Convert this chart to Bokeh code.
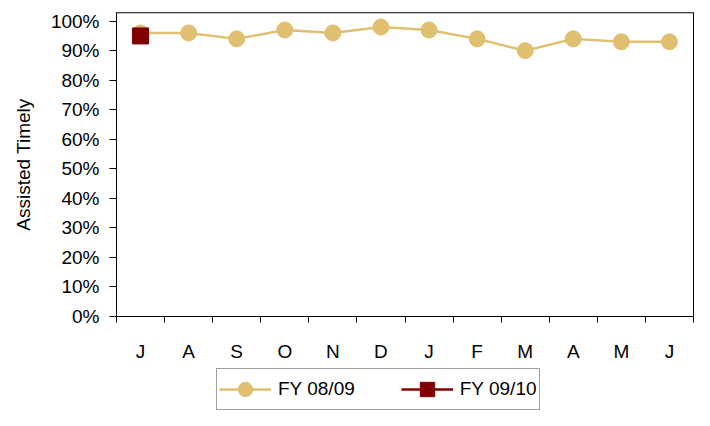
from bokeh.plotting import figure
from bokeh.layouts import column
from bokeh.models import (FixedTicker, PrintfTickFormatter, Legend, LegendItem,
                          Range1d, Span)
from bokeh.embed import file_html
from bokeh.resources import INLINE

months = ["J", "A", "S", "O", "N", "D", "J", "F", "M", "A", "M", "J"]
fy0809 = [96, 96, 94, 97, 96, 98, 97, 94, 90, 94, 93, 93]
fy0910 = [95]
y_ticks = [0, 10, 20, 30, 40, 50, 60, 70, 80, 90, 100]
series_labels = ["FY 08/09", "FY 09/10"]

GOLD = "#E0C070"
RED = "#800000"
FONT = "Liberation Sans"
FS = "19px"
Y_TOP = 102.93

xs = list(range(len(months)))

p = figure(width=694, height=366, output_backend="svg", toolbar_location=None,
           x_range=Range1d(-0.5, len(months) - 0.5), y_range=Range1d(0, Y_TOP),
           min_border_left=116, min_border_right=1, min_border_top=12,
           min_border_bottom=50)
p.grid.visible = False
p.outline_line_color = "black"
p.background_fill_color = "white"
p.border_fill_color = "white"

p.line(xs, fy0809, line_color=GOLD, line_width=2.5)
p.scatter(xs, fy0809, marker="circle", size=16, fill_color=GOLD, line_color=GOLD)
p.line(xs[:len(fy0910)], fy0910, line_color=RED, line_width=2.5)
p.scatter(xs[:len(fy0910)], fy0910, marker="square", size=16, fill_color=RED, line_color=RED)

p.add_layout(Span(location=Y_TOP, dimension="width", line_color="#808080", line_width=2))

# x axis
p.xaxis.ticker = FixedTicker(ticks=xs, minor_ticks=[i - 0.5 for i in range(len(months) + 1)])
p.xaxis.major_label_overrides = {i: m for i, m in enumerate(months)}
p.xaxis.major_tick_line_color = None
p.xaxis.major_tick_out = 0
p.xaxis.major_tick_in = 0
p.xaxis.minor_tick_out = 6
p.xaxis.minor_tick_in = 0
p.xaxis.minor_tick_line_color = "black"
p.xaxis.axis_line_color = "black"
p.xaxis.major_label_standoff = 18
p.xaxis.major_label_text_font = FONT
p.xaxis.major_label_text_font_size = FS
p.xaxis.major_label_text_color = "black"

# y axis
p.yaxis.ticker = FixedTicker(ticks=y_ticks)
p.yaxis.formatter = PrintfTickFormatter(format="%d%%")
p.yaxis.minor_tick_line_color = None
p.yaxis.major_tick_out = 7
p.yaxis.major_tick_in = 0
p.yaxis.major_tick_line_color = "black"
p.yaxis.axis_line_color = "black"
p.yaxis.major_label_standoff = 10
p.yaxis.major_label_text_font = FONT
p.yaxis.major_label_text_font_size = FS
p.yaxis.major_label_text_color = "black"
p.yaxis.axis_label = "Assisted Timely"
p.yaxis.axis_label_text_font = FONT
p.yaxis.axis_label_text_font_size = FS
p.yaxis.axis_label_text_font_style = "normal"
p.yaxis.axis_label_text_color = "black"
p.yaxis.axis_label_standoff = 14

# legend strip (series drawn out of view so only the legend shows)
lg = figure(width=694, height=44, output_backend="svg", toolbar_location=None,
            x_range=Range1d(-0.5, len(months) - 0.5), y_range=Range1d(1000, 1001),
            x_axis_type=None, y_axis_type=None,
            min_border_left=0, min_border_right=0, min_border_top=0, min_border_bottom=0)
lg.grid.visible = False
lg.outline_line_color = None
lg.border_fill_color = "white"
lg.background_fill_color = "white"
r1 = lg.line(xs, fy0809, line_color=GOLD, line_width=2.5)
r1c = lg.scatter(xs, fy0809, marker="circle", size=16, fill_color=GOLD, line_color=GOLD)
r2 = lg.line(xs[:len(fy0910)], fy0910, line_color=RED, line_width=2.5)
r2s = lg.scatter(xs[:len(fy0910)], fy0910, marker="square", size=16, fill_color=RED, line_color=RED)

legend = Legend(items=[LegendItem(label=series_labels[0], renderers=[r1, r1c]),
                       LegendItem(label=series_labels[1], renderers=[r2, r2s])],
                orientation="horizontal", location=(100, 0))
legend.label_text_font = FONT
legend.label_text_font_size = FS
legend.label_text_color = "black"
legend.glyph_width = 52
legend.glyph_height = 36
legend.label_standoff = 7
legend.spacing = 46
legend.padding = 2
legend.margin = 0
legend.border_line_color = "#404040"
legend.border_line_width = 1
legend.background_fill_color = "white"
lg.add_layout(legend, "center")

layout = column(p, lg, spacing=0)
open("out.html", "w").write(file_html(layout, INLINE))
